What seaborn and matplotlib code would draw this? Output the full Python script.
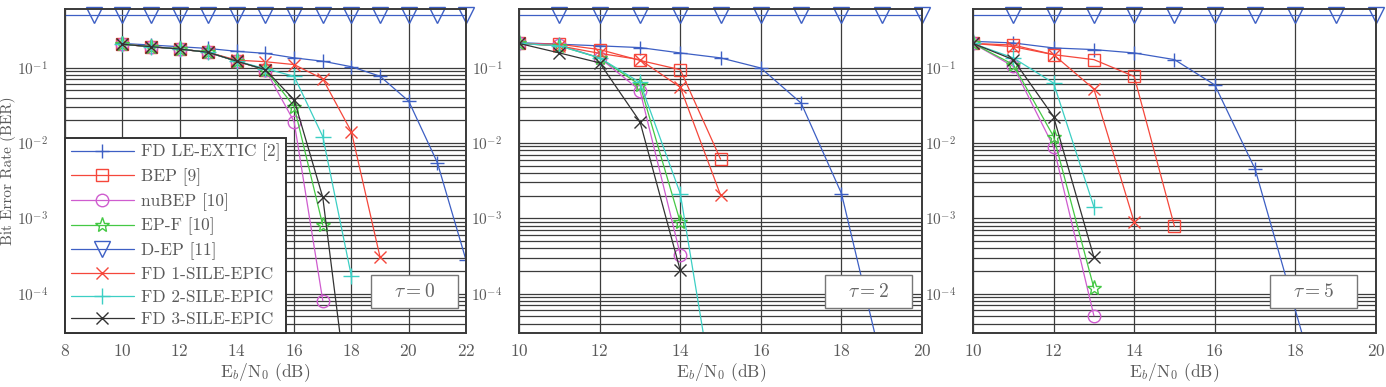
import numpy as np
import matplotlib
matplotlib.use('Agg')
import matplotlib.pyplot as plt
import seaborn as sns
from matplotlib.ticker import FixedLocator, LogFormatterSciNotation, NullFormatter
from matplotlib.patches import Rectangle

# ---- data (BER vs Eb/N0 in dB) ----
# tau = 0
eb_t0_le = [10, 11, 12, 13, 14, 15, 16, 17, 18, 19, 20, 21, 22]
ber_t0_le = [0.21, 0.2, 0.19, 0.18, 0.165, 0.155, 0.135, 0.122, 0.103, 0.077, 0.036, 0.0055, 2.8e-4]
eb_t0_bep = [10, 11, 12, 13, 14, 15]
ber_t0_bep = [0.205, 0.19, 0.177, 0.16, 0.122, 0.094]
eb_t0_nubep = [10, 11, 12, 13, 14, 15, 16, 17]
ber_t0_nubep = [0.205, 0.19, 0.177, 0.16, 0.122, 0.094, 0.0192, 8.1e-5]
eb_t0_epf = [10, 11, 12, 13, 14, 15, 16, 17]
ber_t0_epf = [0.205, 0.19, 0.177, 0.16, 0.122, 0.094, 0.0305, 8.1e-4]
eb_t0_dep = [8, 9, 10, 11, 12, 13, 14, 15, 16, 17, 18, 19, 20, 21, 22]
ber_t0_dep = [0.5] * 15
eb_t0_fd1 = [10, 11, 12, 13, 14, 15, 16, 17, 18, 19]
ber_t0_fd1 = [0.205, 0.19, 0.177, 0.16, 0.126, 0.12, 0.11, 0.071, 0.0141, 3.05e-4]
eb_t0_fd2 = [10, 11, 12, 13, 14, 15, 16, 17, 18]
ber_t0_fd2 = [0.205, 0.19, 0.177, 0.16, 0.122, 0.097, 0.077, 0.0122, 1.7e-4]
eb_t0_fd3 = [10, 11, 12, 13, 14, 15, 16, 17, 18]
ber_t0_fd3 = [0.205, 0.19, 0.177, 0.16, 0.122, 0.094, 0.0374, 0.0019, 1.8e-6]

# tau = 2
eb_t2_le = [10, 11, 12, 13, 14, 15, 16, 17, 18, 19]
ber_t2_le = [0.215, 0.205, 0.195, 0.185, 0.157, 0.135, 0.099, 0.0338, 0.00213, 1.2e-5]
eb_t2_bep = [10, 11, 12, 13, 14, 15]
ber_t2_bep = [0.21, 0.205, 0.174, 0.125, 0.094, 0.0061]
eb_t2_nubep = [10, 11, 12, 13, 14]
ber_t2_nubep = [0.21, 0.2, 0.135, 0.0498, 3.3e-4]
eb_t2_epf = [10, 11, 12, 13, 14]
ber_t2_epf = [0.21, 0.195, 0.135, 0.059, 8.9e-4]
eb_t2_dep = [10, 11, 12, 13, 14, 15, 16, 17, 18, 19, 20]
ber_t2_dep = [0.5] * 11
eb_t2_fd1 = [10, 11, 12, 13, 14, 15]
ber_t2_fd1 = [0.21, 0.195, 0.155, 0.128, 0.055, 0.00203]
eb_t2_fd2 = [10, 11, 12, 13, 14, 15]
ber_t2_fd2 = [0.21, 0.195, 0.135, 0.0637, 0.00213, 1.2e-6]
eb_t2_fd3 = [10, 11, 12, 13, 14]
ber_t2_fd3 = [0.21, 0.157, 0.116, 0.0192, 2.03e-4]

# tau = 5
eb_t5_le = [10, 11, 12, 13, 14, 15, 16, 17, 19]
ber_t5_le = [0.224, 0.213, 0.183, 0.174, 0.157, 0.128, 0.059, 0.0045, 8e-7]
eb_t5_bep = [10, 11, 12, 13, 14, 15]
ber_t5_bep = [0.21, 0.2, 0.149, 0.128, 0.0766, 7.8e-4]
eb_t5_nubep = [10, 11, 12, 13]
ber_t5_nubep = [0.21, 0.104, 0.0089, 5.1e-5]
eb_t5_epf = [10, 11, 12, 13]
ber_t5_epf = [0.21, 0.11, 0.0122, 1.19e-4]
eb_t5_dep = [10, 11, 12, 13, 14, 15, 16, 17, 18, 19, 20]
ber_t5_dep = [0.5] * 11
eb_t5_fd1 = [10, 11, 12, 13, 14]
ber_t5_fd1 = [0.21, 0.19, 0.149, 0.052, 8.9e-4]
eb_t5_fd2 = [10, 11, 12, 13]
ber_t5_fd2 = [0.21, 0.135, 0.0625, 0.00142]
eb_t5_fd3 = [10, 11, 12, 13]
ber_t5_fd3 = [0.21, 0.128, 0.0224, 3.05e-4]

labels = ['FD LE-EXTIC [2]', 'BEP [9]', 'nuBEP [10]', 'EP-F [10]', 'D-EP [11]',
          'FD 1-SILE-EPIC', 'FD 2-SILE-EPIC', 'FD 3-SILE-EPIC']
tau_labels = [r'$\tau = 0$', r'$\tau = 2$', r'$\tau = 5$']
x_limits = [(8, 22), (10, 20), (10, 20)]

# style per curve: colour, marker, marker size
styles = {
    'FD LE-EXTIC [2]': ('#3d5fc4', '+', 10),
    'BEP [9]': ('#f5473b', 's', 8.5),
    'nuBEP [10]': ('#cf5ccf', 'o', 9),
    'EP-F [10]': ('#45c845', '*', 11),
    'D-EP [11]': ('#3d5fc4', 'v', 12),
    'FD 1-SILE-EPIC': ('#f5473b', 'x', 8),
    'FD 2-SILE-EPIC': ('#3ccfc4', '+', 11),
    'FD 3-SILE-EPIC': ('#333333', 'x', 8),
}

panels = [
    [(eb_t0_le, ber_t0_le), (eb_t0_bep, ber_t0_bep), (eb_t0_nubep, ber_t0_nubep),
     (eb_t0_epf, ber_t0_epf), (eb_t0_dep, ber_t0_dep), (eb_t0_fd1, ber_t0_fd1),
     (eb_t0_fd2, ber_t0_fd2), (eb_t0_fd3, ber_t0_fd3)],
    [(eb_t2_le, ber_t2_le), (eb_t2_bep, ber_t2_bep), (eb_t2_nubep, ber_t2_nubep),
     (eb_t2_epf, ber_t2_epf), (eb_t2_dep, ber_t2_dep), (eb_t2_fd1, ber_t2_fd1),
     (eb_t2_fd2, ber_t2_fd2), (eb_t2_fd3, ber_t2_fd3)],
    [(eb_t5_le, ber_t5_le), (eb_t5_bep, ber_t5_bep), (eb_t5_nubep, ber_t5_nubep),
     (eb_t5_epf, ber_t5_epf), (eb_t5_dep, ber_t5_dep), (eb_t5_fd1, ber_t5_fd1),
     (eb_t5_fd2, ber_t5_fd2), (eb_t5_fd3, ber_t5_fd3)],
]

sns.set_theme(style='white')
plt.rcParams['font.family'] = ['cmr10', 'DejaVu Serif']
plt.rcParams['mathtext.fontset'] = 'cm'
plt.rcParams['axes.unicode_minus'] = False
plt.rcParams['axes.formatter.use_mathtext'] = True

text_col = '#5a5a5a'
grid_col = '#3c3c3c'

fig = plt.figure(figsize=(13.86, 3.87), dpi=100)
positions = [
    [0.0469, 0.1395, 0.2893, 0.837],
    [0.3745, 0.1395, 0.2908, 0.837],
    [0.7020, 0.1395, 0.2908, 0.837],
]
box_x = [0.763, 0.759, 0.737]

minor_y = [k * 10.0 ** e for e in (-5, -4, -3, -2) for k in range(2, 10)]

for i, (pos, series) in enumerate(zip(positions, panels)):
    ax = fig.add_axes(pos)
    ax.set_yscale('log')
    ax.set_xlim(*x_limits[i])
    ax.set_ylim(3e-5, 0.6)
    ax.set_xticks(np.arange(x_limits[i][0], x_limits[i][1] + 1, 2))
    ax.yaxis.set_major_locator(FixedLocator([1e-4, 1e-3, 1e-2, 1e-1]))
    ax.yaxis.set_major_formatter(LogFormatterSciNotation())
    ax.yaxis.set_minor_locator(FixedLocator(minor_y))
    ax.yaxis.set_minor_formatter(NullFormatter())
    ax.grid(True, which='major', color=grid_col, linewidth=0.9)
    ax.grid(True, which='minor', axis='y', color=grid_col, linewidth=0.9)
    ax.set_axisbelow(True)
    ax.tick_params(axis='x', which='both', length=0, labelsize=12.5,
                   labelcolor=text_col, pad=7)
    ax.tick_params(axis='y', which='both', length=0, labelsize=11,
                   labelcolor=text_col, pad=12)
    for sp in ax.spines.values():
        sp.set_color('#3a3a3a')
        sp.set_linewidth(1.4)

    for lab, (xs, ys) in zip(labels, series):
        col, mk, ms = styles[lab]
        mev = slice(1, None) if lab == 'D-EP [11]' else None
        sns.lineplot(x=xs, y=ys, ax=ax, color=col, marker=mk, markersize=ms,
                     markerfacecolor='none', markeredgecolor=col,
                     markeredgewidth=1.0, linewidth=0.9, label=lab,
                     markevery=mev, clip_on=(lab != 'D-EP [11]'),
                     sort=False, estimator=None, legend=False)

    ax.set_xlabel(r'E$_b$/N$_0$ (dB)', fontsize=12.5, color=text_col, labelpad=2)
    if i == 0:
        ax.set_ylabel('Bit Error Rate (BER)', fontsize=11, color=text_col)
        ax.yaxis.set_label_coords(-0.122, 0.5)
        handles = ax.get_lines()[:len(labels)]
        leg = ax.legend(handles, labels, loc='lower left', bbox_to_anchor=(0, 0),
                        borderaxespad=0, fontsize=12.5, handlelength=3.6,
                        labelspacing=0.4, handletextpad=0.4, borderpad=0.35,
                        fancybox=False, framealpha=1, edgecolor='#333333')
        leg.get_frame().set_linewidth(1.4)
        for t in leg.get_texts():
            t.set_color(text_col)

    # tau box
    ax.add_patch(Rectangle((box_x[i], 0.077), 0.217, 0.102, transform=ax.transAxes,
                           facecolor='white', edgecolor='#777777', linewidth=1.0,
                           zorder=5))
    ax.text(box_x[i] + 0.1085, 0.128, tau_labels[i], transform=ax.transAxes,
            ha='center', va='center', fontsize=14, color='#666666', zorder=6)

fig.savefig('out.png', dpi=100)
